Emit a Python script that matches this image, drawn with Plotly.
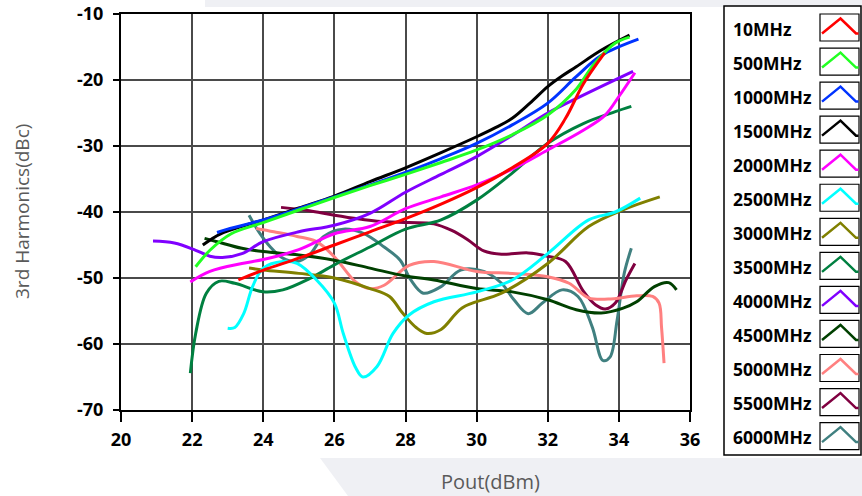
import plotly.graph_objects as go

# Third-harmonic level (dBc) versus output power (dBm), one sweep per carrier frequency
pout_10 = [23.3, 24.0, 25.0, 26.0, 27.0, 28.0, 29.0, 30.0, 31.0, 32.0, 32.5, 33.0, 33.6]
h3_10 = [-50.3, -48.8, -47.0, -45.0, -43.0, -41.0, -38.8, -36.3, -33.3, -29.6, -25.8, -20.6, -15.9]

pout_500 = [22.1, 22.5, 23.1, 24.0, 25.0, 26.0, 27.0, 28.0, 29.0, 30.0, 31.0, 32.0, 32.8, 33.3, 33.9, 34.3]
h3_500 = [-48.3, -45.8, -43.3, -41.6, -39.7, -37.8, -36.0, -34.3, -32.5, -30.6, -28.3, -25.3, -21.4, -17.6, -14.4, -13.5]

pout_1000 = [22.7, 23.0, 24.0, 25.0, 26.0, 27.0, 28.0, 29.0, 30.0, 31.0, 32.0, 32.8, 33.5, 34.55]
h3_1000 = [-43.1, -42.6, -41.2, -39.5, -37.7, -35.9, -34.0, -31.9, -29.6, -26.8, -23.5, -19.5, -16.3, -13.8]

pout_1500 = [22.3, 22.8, 23.5, 24.0, 25.0, 26.0, 27.0, 28.0, 29.0, 30.0, 30.5, 31.0, 31.5, 32.0, 32.4, 32.8, 33.5, 34.3]
h3_1500 = [-45.0, -43.3, -42.0, -41.2, -39.4, -37.6, -35.4, -33.3, -31.0, -28.6, -27.3, -25.8, -23.5, -21.0, -19.4,
           -18.0, -15.5, -13.2]

pout_2000 = [21.95, 22.5, 23.4, 24.0, 25.0, 26.0, 27.0, 28.0, 29.0, 30.0, 31.0, 32.0, 33.0, 33.6, 34.0, 34.45]
h3_2000 = [-50.6, -49.0, -47.8, -47.2, -45.7, -43.3, -42.2, -39.5, -37.7, -35.9, -33.5, -30.6, -27.6, -25.4, -22.5, -18.9]

pout_2500 = [23.0, 23.2, 23.45, 23.7, 24.0, 24.55, 24.95, 25.5, 26.0, 26.25, 26.6, 26.8, 27.2, 27.65, 28.1,
             28.8, 30.0, 31.0, 32.0, 33.15, 33.9, 34.6]
h3_2500 = [-57.6, -57.5, -55.4, -51.3, -48.5, -47.5, -47.8, -50.3, -53.8, -58.4, -63.6, -65.0, -63.4, -58.4, -55.6,
           -53.6, -52.1, -50.3, -46.3, -41.2, -40.0, -37.9]

pout_3000 = [23.6, 24.0, 25.0, 26.0, 27.0, 27.55, 27.9, 28.3, 28.6, 29.0, 29.6, 30.7, 32.0, 33.15, 34.1, 35.15]
h3_3000 = [-48.5, -48.8, -49.3, -50.0, -51.6, -52.8, -55.2, -57.5, -58.4, -57.8, -54.5, -52.3, -47.8, -42.2, -39.7, -37.7]

pout_3500 = [21.95, 22.1, 22.4, 22.75, 23.2, 24.0, 24.55, 25.3, 26.0, 27.0, 28.0, 29.0, 30.0, 31.0, 32.0, 33.0, 33.9, 34.35]
h3_3500 = [-64.4, -58.4, -52.3, -50.5, -50.8, -52.1, -51.8, -50.1, -48.0, -45.3, -42.6, -41.2, -38.2, -34.1, -29.6,
           -26.6, -24.8, -24.0]

pout_4000 = [20.9, 21.5, 22.1, 22.5, 22.85, 23.4, 24.0, 25.0, 26.0, 27.0, 28.0, 29.0, 30.0, 31.0, 32.0, 33.0, 34.4]
h3_4000 = [-44.4, -44.7, -45.8, -46.7, -46.9, -46.3, -44.5, -43.0, -42.0, -40.2, -37.0, -34.3, -31.6, -28.4, -25.0,
           -22.3, -18.7]

pout_4500 = [22.35, 22.7, 23.4, 24.0, 25.0, 26.0, 27.0, 28.0, 28.8, 30.0, 31.0, 32.0, 32.8, 33.5, 34.1, 34.5, 35.0,
             35.4, 35.62]
h3_4500 = [-44.0, -44.5, -45.5, -46.0, -46.5, -47.3, -48.5, -49.7, -50.3, -51.6, -52.1, -53.3, -54.8, -55.3, -54.6,
           -53.6, -51.3, -50.7, -51.8]

pout_5000 = [23.8, 24.3, 24.95, 25.5, 26.0, 26.6, 27.0, 27.4, 28.1, 28.8, 30.0, 31.0, 32.0, 32.6, 33.15, 33.7, 34.5,
             34.95, 35.13, 35.2, 35.27]
h3_5000 = [-42.5, -43.0, -43.7, -44.5, -46.8, -50.6, -51.6, -51.1, -48.1, -47.5, -49.0, -49.3, -49.8, -50.8, -53.0,
           -53.2, -52.7, -52.8, -53.8, -57.5, -62.9]

pout_5500 = [24.5, 25.3, 26.0, 27.2, 28.1, 28.8, 29.3, 29.75, 30.2, 30.7, 31.45, 32.0, 32.5, 33.0, 33.35, 33.62,
             33.9, 34.2, 34.45]
h3_5500 = [-39.3, -39.8, -40.5, -41.4, -41.6, -41.8, -42.8, -44.2, -45.9, -46.4, -46.2, -46.7, -47.5, -52.0, -54.1,
           -54.7, -53.8, -50.3, -47.8]

pout_6000 = [23.6, 23.9, 24.2, 24.55, 24.95, 25.3, 25.7, 26.25, 26.8, 27.4, 27.85, 28.15, 28.5, 29.0, 29.55, 30.2,
             30.7, 31.05, 31.45, 31.85, 32.4, 32.85, 33.25, 33.55, 33.75, 33.95, 34.15, 34.35]
h3_6000 = [-40.5, -43.2, -45.3, -47.0, -47.5, -46.5, -43.7, -42.6, -43.2, -45.3, -47.3, -50.3, -52.3, -51.3, -48.8,
           -49.0, -50.8, -53.3, -55.4, -53.8, -51.8, -52.8, -57.4, -62.5, -62.0, -56.4, -49.3, -45.5]

freq_labels = ["10MHz", "500MHz", "1000MHz", "1500MHz", "2000MHz", "2500MHz", "3000MHz",
               "3500MHz", "4000MHz", "4500MHz", "5000MHz", "5500MHz", "6000MHz"]
pout_sets = [pout_10, pout_500, pout_1000, pout_1500, pout_2000, pout_2500, pout_3000,
             pout_3500, pout_4000, pout_4500, pout_5000, pout_5500, pout_6000]
h3_sets = [h3_10, h3_500, h3_1000, h3_1500, h3_2000, h3_2500, h3_3000,
           h3_3500, h3_4000, h3_4500, h3_5000, h3_5500, h3_6000]

x_ticks = [20, 22, 24, 26, 28, 30, 32, 34, 36]
y_ticks = [-70, -60, -50, -40, -30, -20, -10]
y_tick_text = ["-70", "-60", "-50", "-40", "-30", "-20", "-10"]

colors = ["#ff0000", "#22ff22", "#0033ff", "#000000", "#ff00ff", "#00ffff", "#808000",
          "#008040", "#8000ff", "#004000", "#ff8080", "#800040", "#408080"]

# Canvas and plot-area geometry in pixels
W, H = 862, 496
L, R, T, B = 121, 690, 14, 410


def fx(p):
    return (p - L) / (R - L)


def fy(p):
    return (B - p) / (B - T)


fig = go.Figure()

# Draw the highest frequency first so the low-frequency curves sit on top
for name, xs, ys, c in reversed(list(zip(freq_labels, pout_sets, h3_sets, colors))):
    fig.add_trace(go.Scatter(
        x=xs, y=ys, name=name, mode="lines",
        line=dict(color=c, width=3, shape="spline", smoothing=1.0),
        showlegend=False,
    ))

shapes = []
annotations = []

# Page-background bands
shapes.append(dict(type="rect", xref="paper", yref="paper", layer="below",
                   x0=fx(205), x1=fx(862), y0=fy(7), y1=fy(0),
                   fillcolor="#eff0f4", line=dict(width=0)))
shapes.append(dict(type="path", xref="paper", yref="paper", layer="below",
                   path=f"M {fx(320)},{fy(458)} L {fx(862)},{fy(458)} L {fx(862)},{fy(496)} "
                        f"L {fx(348)},{fy(496)} Z",
                   fillcolor="#eff0f4", line=dict(width=0)))

# Hand-built legend: framed box, bold labels and a small boxed caret icon per series
shapes.append(dict(type="rect", xref="paper", yref="paper",
                   x0=fx(724), x1=fx(861), y0=fy(455), y1=fy(6),
                   fillcolor="white", line=dict(color="black", width=1.5)))
row0, row_step = 28.5, 34.05
for i, (name, c) in enumerate(zip(freq_labels, colors)):
    cy = row0 + i * row_step
    annotations.append(dict(xref="paper", yref="paper", x=fx(731), y=fy(cy),
                            xanchor="left", yanchor="middle", showarrow=False,
                            text=f"<b>{name}</b>",
                            font=dict(family="Open Sans", size=17.5, color="black")))
    shapes.append(dict(type="rect", xref="paper", yref="paper",
                       x0=fx(820), x1=fx(859), y0=fy(cy + 12.5), y1=fy(cy - 14.5),
                       fillcolor="white", line=dict(color="black", width=1.2)))
    shapes.append(dict(type="path", xref="paper", yref="paper",
                       path=f"M {fx(822)},{fy(cy + 5)} L {fx(840.5)},{fy(cy - 10)} "
                            f"L {fx(856)},{fy(cy + 5)} L {fx(858.5)},{fy(cy + 5)}",
                       line=dict(color=c, width=2.5)))

# Axis titles
annotations.append(dict(xref="paper", yref="paper", x=fx(490), y=fy(481),
                        xanchor="center", yanchor="middle", showarrow=False,
                        text="Pout(dBm)", font=dict(family="Open Sans", size=20, color="#5a5a5a")))
annotations.append(dict(xref="paper", yref="paper", x=fx(22), y=fy(212),
                        xanchor="center", yanchor="middle", showarrow=False, textangle=-90,
                        text="3rd Harmonics(dBc)", font=dict(family="Open Sans", size=19, color="#5a5a5a")))

tick_font = dict(family="Open Sans", size=18, color="black", weight="bold")

fig.update_layout(
    width=W, height=H,
    margin=dict(l=L, r=W - R, t=T, b=H - B, pad=0, autoexpand=False),
    paper_bgcolor="white", plot_bgcolor="white",
    shapes=shapes, annotations=annotations,
    xaxis=dict(range=[20, 36], tickvals=x_ticks, ticks="outside", ticklen=10, tickwidth=1.5,
               tickcolor="black", showgrid=True, gridcolor="#4a4a4a", gridwidth=1.5,
               showline=True, linecolor="black", linewidth=2, mirror=True, automargin=False,
               zeroline=False, tickfont=tick_font, ticklabelstandoff=2),
    yaxis=dict(range=[-70, -10], tickvals=y_ticks, ticktext=y_tick_text, ticks="outside",
               ticklen=6, tickwidth=1.5, tickcolor="black", showgrid=True,
               gridcolor="#4a4a4a", gridwidth=1.5, showline=True, linecolor="black",
               linewidth=2, mirror=True, zeroline=False, tickfont=tick_font,
               automargin=False, ticklabelstandoff=6),
)

fig.write_html("out.html")
